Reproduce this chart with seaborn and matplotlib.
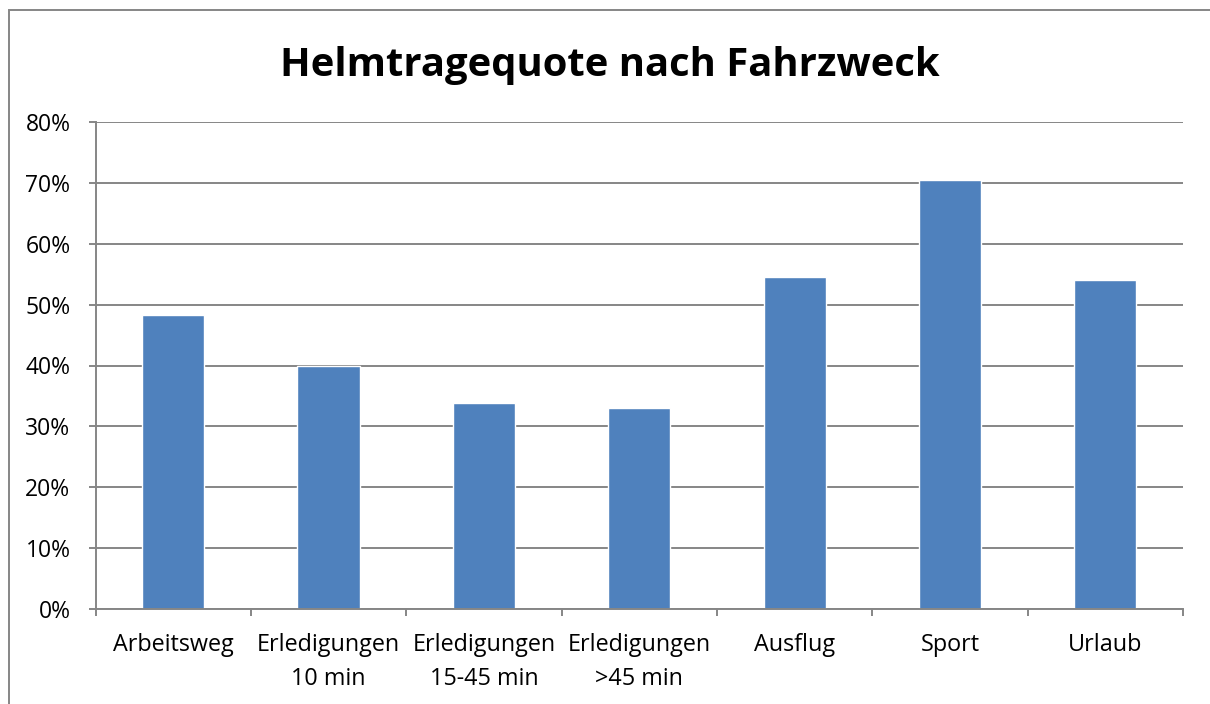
import pandas as pd
import matplotlib.pyplot as plt
import seaborn as sns
from matplotlib.patches import Rectangle
from matplotlib.ticker import FixedLocator, PercentFormatter

# Data
categories = ['Arbeitsweg', 'Erledigungen\n10 min', 'Erledigungen\n15-45 min',
              'Erledigungen\n>45 min', 'Ausflug', 'Sport', 'Urlaub']
quote = [48.3, 39.9, 33.8, 33.0, 54.5, 70.4, 54.0]
y_ticks = [0, 10, 20, 30, 40, 50, 60, 70, 80]

df = pd.DataFrame({'Fahrzweck': categories, 'Quote': quote})

sns.set_style('white')
plt.rcParams['font.family'] = ['Open Sans', 'DejaVu Sans']
plt.rcParams['text.color'] = 'black'
plt.rcParams['xtick.labelcolor'] = 'black'
plt.rcParams['ytick.labelcolor'] = 'black'

fig = plt.figure(figsize=(12.1, 7.04), dpi=100)
ax = fig.add_axes([95.5 / 1210, 1 - 609 / 704, (1183 - 95.5) / 1210, (609 - 122) / 704])

sns.barplot(data=df, x='Fahrzweck', y='Quote', color='#4F81BD', width=0.4,
            saturation=1, ax=ax)

grid_col = '#868686'
ax.set_xlim(-0.5, len(categories) - 0.5)
ax.set_ylim(0, 80)
ax.set_yticks(y_ticks)
ax.yaxis.set_major_formatter(PercentFormatter(decimals=0))
ax.grid(axis='y', color=grid_col, linewidth=1.4)
ax.set_axisbelow(True)

# tick marks between categories, as in the original
ax.xaxis.set_minor_locator(FixedLocator([i - 0.5 for i in range(len(categories) + 1)]))
ax.tick_params(axis='x', which='major', length=0, pad=17, labelsize=16.8)
ax.tick_params(axis='x', which='minor', length=5, width=1.4, color=grid_col, bottom=True)
ax.tick_params(axis='y', length=5, width=1.4, color=grid_col, labelsize=16.5, pad=13, left=True)
for lbl in ax.get_xticklabels():
    lbl.set_linespacing(1.55)

for side in ['top', 'right']:
    ax.spines[side].set_visible(False)
for side in ['left', 'bottom']:
    ax.spines[side].set_color(grid_col)
    ax.spines[side].set_linewidth(1.4)

ax.set_xlabel('')
ax.set_ylabel('')

fig.text(610 / 1210, 1 - 76 / 704, 'Helmtragequote nach Fahrzweck', ha='center',
         va='baseline', fontsize=28.8, fontweight='bold')

# chart border (only top and left edges fall inside the picture)
fig.patches.append(Rectangle((8.5 / 1210, -0.1), 1.2, 1 - 9.5 / 704 + 0.1,
                             transform=fig.transFigure, fill=False,
                             edgecolor='#868686', linewidth=1.4))

fig.savefig('out.png', dpi=100)
